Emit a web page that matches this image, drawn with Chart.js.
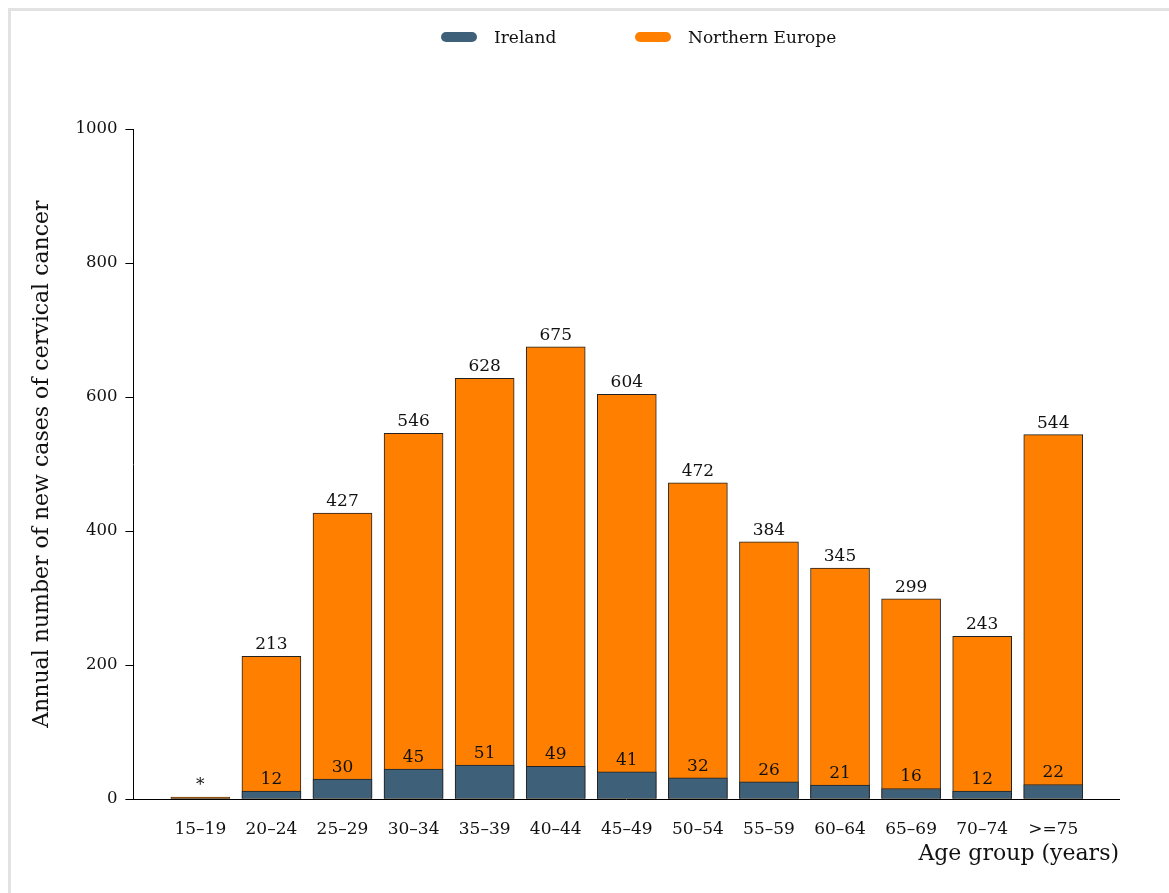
<!DOCTYPE html>
<html>
<head>
<meta charset="utf-8">
<script src="https://cdn.jsdelivr.net/npm/chart.js@4.4.1/dist/chart.umd.min.js"></script>
<style>
  html, body { margin: 0; padding: 0; background: #ffffff; overflow: hidden; }
  #wrap { position: relative; width: 1169px; height: 893px; }
  #frame { position: absolute; left: 8px; top: 8px; width: 1300px; height: 1000px; border: 3px solid #e2e2e2; box-sizing: border-box; pointer-events: none; }
  canvas { position: absolute; left: 0; top: 0; }
  .lg { position: absolute; top: 26px; font-family: "DejaVu Serif", serif; font-size: 17px; color: #111; line-height: 22px; white-space: nowrap; }
  .sw { position: absolute; top: 32px; width: 36px; height: 10px; border-radius: 5px; }
</style>
</head>
<body>
<div id="wrap">
  <canvas id="c" width="1169" height="893"></canvas>
  <div id="frame"></div>
  <div class="sw" style="left:441px;background:#3f6079;"></div>
  <div class="lg" style="left:494px;">Ireland</div>
  <div class="sw" style="left:635px;background:#ff8000;"></div>
  <div class="lg" style="left:688px;">Northern Europe</div>
</div>
<script>
const categories = ["15–19","20–24","25–29","30–34","35–39","40–44","45–49","50–54","55–59","60–64","65–69","70–74",">=75"];
const irelandValues = [1, 12, 30, 45, 51, 49, 41, 32, 26, 21, 16, 12, 22];
const northernEuropeValues = [3, 213, 427, 546, 628, 675, 604, 472, 384, 345, 299, 243, 544];
const irelandLabels = ["", "12", "30", "45", "51", "49", "41", "32", "26", "21", "16", "12", "22"];
const northernEuropeLabels = ["*", "213", "427", "546", "628", "675", "604", "472", "384", "345", "299", "243", "544"];
const yTicks = [0, 200, 400, 600, 800, 1000];

const FONT = "DejaVu Serif";

const labelPlugin = {
  id: 'barLabels',
  afterDatasetsDraw(chart) {
    const ctx = chart.ctx;
    ctx.save();
    ctx.font = "17px '" + FONT + "'";
    ctx.fillStyle = "#111";
    ctx.textAlign = "center";
    ctx.textBaseline = "bottom";
    chart.data.datasets.forEach((ds, di) => {
      const meta = chart.getDatasetMeta(di);
      meta.data.forEach((el, i) => {
        const t = ds.labelTexts[i];
        if (t) ctx.fillText(t, el.x, el.y - 3);
      });
    });
    ctx.restore();
  }
};

new Chart(document.getElementById('c'), {
  type: 'bar',
  data: {
    datasets: [
      {
        label: 'Ireland',
        data: irelandValues.map((v, i) => ({ x: i, y: v })),
        labelTexts: irelandLabels,
        backgroundColor: '#3f6079',
        borderColor: '#222222',
        borderWidth: 1,
        barThickness: 59,
        grouped: false
      },
      {
        label: 'Northern Europe',
        data: northernEuropeValues.map((v, i) => ({ x: i, y: v })),
        labelTexts: northernEuropeLabels,
        backgroundColor: '#ff8000',
        borderColor: '#222222',
        borderWidth: 1,
        barThickness: 59,
        grouped: false
      }
    ]
  },
  options: {
    responsive: false,
    animation: false,
    events: [],
    layout: { padding: { left: 25, right: 50, top: 129, bottom: 22 } },
    plugins: {
      legend: { display: false },
      tooltip: { enabled: false }
    },
    scales: {
      x: {
        type: 'linear',
        min: -0.942,
        max: 12.925,
        offset: false,
        afterBuildTicks(scale) { scale.ticks = categories.map((c, i) => ({ value: i })); },
        ticks: {
          autoSkip: false,
          maxRotation: 0,
          padding: 20,
          color: '#111',
          font: { family: FONT, size: 17 },
          callback: (v) => categories[v]
        },
        grid: { display: false, drawTicks: false },
        border: { display: true, color: '#000', width: 1 },
        title: {
          display: true,
          text: 'Age group (years)',
          align: 'end',
          color: '#111',
          font: { family: FONT, size: 22 },
          padding: { top: -19, bottom: 4 }
        }
      },
      y: {
        min: 0,
        max: 1000,
        afterBuildTicks(scale) { scale.ticks = yTicks.map(v => ({ value: v })); },
        ticks: {
          padding: 8,
          color: '#111',
          font: { family: FONT, size: 16.5 },
          callback: (v) => String(v)
        },
        grid: { display: true, drawOnChartArea: false, drawTicks: true, tickLength: 8, color: '#000' },
        border: { display: true, color: '#000', width: 1 },
        title: {
          display: true,
          text: 'Annual number of new cases of cervical cancer',
          color: '#111',
          font: { family: FONT, size: 22 },
          padding: { top: 4, bottom: 12 }
        }
      }
    }
  },
  plugins: [labelPlugin]
});
</script>
</body>
</html>
